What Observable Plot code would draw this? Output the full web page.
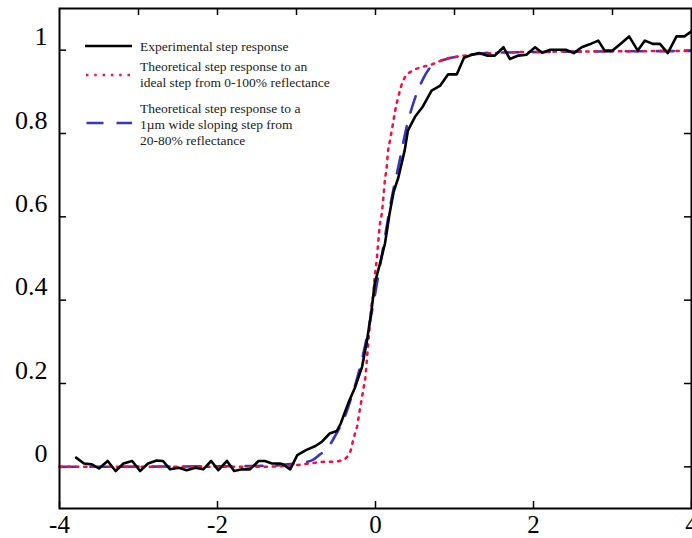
<!DOCTYPE html>
<html>
<head>
<meta charset="utf-8">
<script src="https://cdn.jsdelivr.net/npm/d3@7"></script>
<script src="https://cdn.jsdelivr.net/npm/@observablehq/plot@0.6"></script>
<style>
  html, body { margin: 0; padding: 0; background: #fff; }
  #chart { position: relative; width: 692px; height: 538px; overflow: hidden; }
  #legend { position: absolute; left: 0; top: 0; pointer-events: none; }
</style>
</head>
<body>
<div id="chart"></div>
<script>
// Measured step response (position in µm, normalised reflectance signal)
const expX = [-3.79, -3.69, -3.59, -3.50, -3.39, -3.29, -3.19, -3.08, -2.98, -2.88,
  -2.77, -2.69, -2.60, -2.49, -2.39, -2.28, -2.18, -2.08, -1.99, -1.88,
  -1.79, -1.69, -1.59, -1.48, -1.40, -1.31, -1.21, -1.17, -1.08, -0.99,
  -0.88, -0.76, -0.68, -0.58, -0.49, -0.44, -0.39, -0.33, -0.26, -0.17,
  -0.11, -0.05, -0.01, 0.06, 0.12, 0.18, 0.23, 0.29, 0.37, 0.41,
  0.50, 0.60, 0.71, 0.82, 0.92, 1.03, 1.12, 1.22, 1.31, 1.41,
  1.51, 1.62, 1.70, 1.81, 1.91, 2.02, 2.11, 2.21, 2.31, 2.41,
  2.51, 2.61, 2.71, 2.82, 2.90, 3.00, 3.10, 3.21, 3.32, 3.41,
  3.51, 3.60, 3.70, 3.81, 3.91, 4.00];
const expY = [0.022, 0.008, 0.006, -0.004, 0.014, -0.010, 0.008, 0.014, -0.010, 0.008,
  0.015, 0.014, -0.006, -0.002, -0.008, -0.002, -0.006, 0.014, -0.008, 0.014,
  -0.010, -0.006, -0.006, 0.014, 0.014, 0.008, 0.008, 0.006, -0.006, 0.028,
  0.040, 0.050, 0.060, 0.080, 0.086, 0.104, 0.130, 0.160, 0.190, 0.240,
  0.300, 0.376, 0.440, 0.490, 0.536, 0.610, 0.660, 0.695, 0.760, 0.807,
  0.840, 0.865, 0.903, 0.915, 0.942, 0.942, 0.982, 0.989, 0.993, 0.987,
  0.987, 1.007, 0.979, 0.987, 0.989, 1.007, 0.994, 1.001, 1.001, 1.001,
  0.993, 1.007, 1.014, 1.023, 0.999, 0.999, 1.015, 1.033, 0.999, 1.023,
  1.015, 1.015, 0.993, 1.033, 1.033, 1.045];

// Theoretical response to an ideal 0–100% step
const idealX = [-4, -1.5, -1.0, -0.76, -0.65, -0.54, -0.42, -0.32, -0.29, -0.26,
  -0.23, -0.21, -0.19, -0.17, -0.15, -0.13, -0.11, -0.09, -0.07, -0.05,
  -0.03, -0.01, 0.015, 0.035, 0.057, 0.078, 0.10, 0.12, 0.14, 0.16,
  0.18, 0.22, 0.25, 0.29, 0.32, 0.37, 0.47, 0.58, 0.70, 0.82,
  0.93, 1.05, 1.27, 2.0, 4.0];
const idealY = [0, 0, 0.004, 0.010, 0.012, 0.012, 0.016, 0.036, 0.058, 0.080,
  0.100, 0.124, 0.146, 0.168, 0.190, 0.212, 0.256, 0.300, 0.344, 0.388,
  0.410, 0.456, 0.496, 0.540, 0.584, 0.606, 0.647, 0.690, 0.716, 0.760,
  0.780, 0.823, 0.856, 0.889, 0.911, 0.934, 0.951, 0.959, 0.965, 0.974,
  0.981, 0.985, 0.990, 0.996, 0.998];

// Theoretical response to a 1 µm wide sloping 20–80% step
const slopeX = [-4, -1.5, -1.0, -0.8, -0.7, -0.6, -0.5, -0.4, -0.3, -0.2,
  -0.1, 0, 0.1, 0.2, 0.3, 0.4, 0.5, 0.6, 0.7, 0.9,
  1.1, 1.5, 4.0];
const slopeY = [0, 0.002, 0.008, 0.016, 0.030, 0.047, 0.078, 0.115, 0.170, 0.235,
  0.320, 0.420, 0.530, 0.640, 0.730, 0.820, 0.885, 0.930, 0.960, 0.979,
  0.986, 0.994, 0.998];

// Axis ticks and labels
const xTopTicks = [-3, -2, -1, 0, 1, 2, 3];
const xLabelTicks = [-4, -2, 0, 2, 4];
const yTicks = [0, 0.2, 0.4, 0.6, 0.8, 1];

const legendEntries = [
  {lines: ["Experimental step response"], kind: "solid"},
  {lines: ["Theoretical step response to an", "ideal step from 0-100% reflectance"], kind: "dotted"},
  {lines: ["Theoretical step response to a", "1\u00b5m wide sloping step from", "20-80% reflectance"], kind: "dashed"}
];

const RED = "#ff0a3c";
const BLUE = "#3535c8";
const serif = "'Liberation Serif', 'Times New Roman', serif";

const expData = expX.map((x, i) => ({x, y: expY[i]}));
const idealData = idealX.map((x, i) => ({x, y: idealY[i]}));
const slopeData = slopeX.map((x, i) => ({x, y: slopeY[i]}));

const W = 692, H = 538;
const mL = 59, mR = 1, mT = 8, mB = 30;
const innerW = W - mL - mR, innerH = H - mT - mB;
const TICK = 7;

const plot = Plot.plot({
  width: W,
  height: H,
  marginLeft: mL,
  marginRight: mR,
  marginTop: mT,
  marginBottom: mB,
  style: {fontFamily: serif, fontSize: "26px", background: "#fff", color: "#000"},
  x: {domain: [-4, 4]},
  y: {domain: [-0.1, 1.1]},
  marks: [
    // inward ticks on all four sides
    Plot.ruleX(xTopTicks, {x: d => d, insetBottom: innerH - TICK, strokeWidth: 1.5}),
    Plot.ruleX(xLabelTicks, {x: d => d, insetTop: innerH - TICK, strokeWidth: 1.5}),
    Plot.ruleY(yTicks, {y: d => d, insetRight: innerW - TICK, strokeWidth: 1.5}),
    Plot.ruleY(yTicks, {y: d => d, insetLeft: innerW - TICK, strokeWidth: 1.5}),
    Plot.axisX({ticks: xLabelTicks, tickSize: 0, tickPadding: 7, fontSize: 25, tickFormat: d => String(d), label: null}),
    Plot.axisY({ticks: yTicks, tickSize: 0, tickPadding: 12, dy: -13, fontSize: 26, tickFormat: d => String(d), label: null}),
    Plot.line(slopeData, {x: "x", y: "y", stroke: BLUE, strokeWidth: 2.6, strokeDasharray: "17,14", curve: "monotone-x"}),
    Plot.line(idealData, {x: "x", y: "y", stroke: RED, strokeWidth: 2.5, strokeDasharray: "2.4,5.8", curve: "monotone-x"}),
    Plot.line(expData, {x: "x", y: "y", stroke: "#000", strokeWidth: 2.6}),
    Plot.frame({stroke: "#000", strokeWidth: 2})
  ]
});

const chart = document.getElementById("chart");
chart.appendChild(plot);

// Legend drawn in the upper-left corner of the plot area
const leg = d3.select(chart).append("svg")
  .attr("id", "legend")
  .attr("width", W)
  .attr("height", 160)
  .style("font-family", serif)
  .style("font-size", "13.5px");

const lineH = 16;
const groupTops = [46, 66, 108];
const swatchY = [46, 75, 123];
legendEntries.forEach((e, i) => {
  const sy = swatchY[i];
  const sw = leg.append("line")
    .attr("x1", 85).attr("x2", 132)
    .attr("y1", sy).attr("y2", sy)
    .attr("stroke-width", 2.6);
  if (e.kind === "solid") sw.attr("stroke", "#000");
  if (e.kind === "dotted") sw.attr("stroke", RED).attr("stroke-dasharray", "2.4,5.9").attr("x1", 86);
  if (e.kind === "dashed") sw.attr("stroke", BLUE).attr("stroke-dasharray", "17,13").attr("x1", 86.5);
  e.lines.forEach((t, j) => {
    leg.append("text")
      .attr("x", 140)
      .attr("y", groupTops[i] + j * lineH)
      .attr("dy", "0.35em")
      .attr("fill", "#222")
      .text(t);
  });
});
</script>
</body>
</html>
